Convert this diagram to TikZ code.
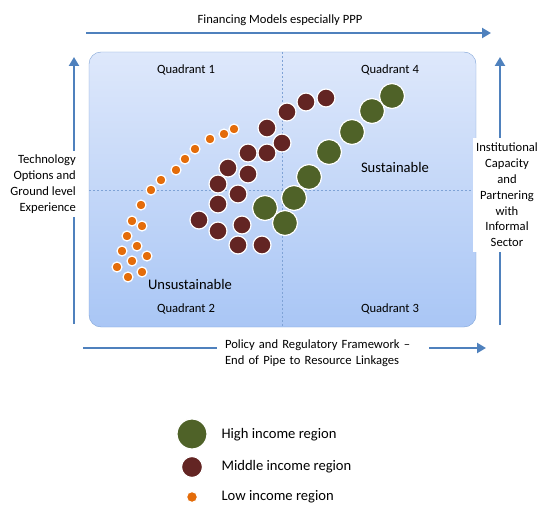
\documentclass[tikz,border=0pt]{standalone}
\usepackage{fontspec}
\setmainfont{Carlito}
\usepackage{xcolor}
\usepackage{tikz}
\usetikzlibrary{arrows.meta}
\definecolor{axisblue}{HTML}{4F81BD}
\definecolor{panelline}{HTML}{7FA3D6}
\definecolor{paneltop}{HTML}{DEE8FB}
\definecolor{panelbottom}{HTML}{A9C6F5}
\definecolor{highgreen}{HTML}{4F6228}
\definecolor{midmaroon}{HTML}{632523}
\definecolor{loworange}{HTML}{E46C0A}

\begin{document}
\begin{tikzpicture}[x=1pt, y=-1pt, font=\fontsize{12.6}{16}\selectfont,
    axis/.style={line width=2.4pt, axisblue, -{Triangle[length=9pt, width=10pt]}},
    axislabel/.style={fill=white, inner sep=4pt},
    dot/.style={circle, draw=white, line width=1.2pt, inner sep=0pt},
    highdot/.style={dot, fill=highgreen, minimum size=25pt},
    middot/.style={dot, fill=midmaroon, minimum size=18pt},
    lowdot/.style={dot, fill=loworange, minimum size=10pt},
    bigword/.style={font=\fontsize{14.6}{17}\selectfont}]
    \useasboundingbox (0,0) rectangle (541,505);

    % Quadrant panel
    \draw[panelline, rounded corners=12pt, top color=paneltop, bottom color=panelbottom]
        (89,52) rectangle (476,327);
    \draw[panelline, dashed, dash pattern=on 2pt off 2pt] (282,52) -- (282,327);
    \draw[panelline, dashed, dash pattern=on 2pt off 2pt] (89,190) -- (476,190);

    \node (q1) at (186,70) {Quadrant 1};
    \node (q4) at (390,70) {Quadrant 4};
    \node (q2) at (186,309) {Quadrant 2};
    \node (q3) at (390,309) {Quadrant 3};
    \node[bigword] (sust) at (395,167) {Sustainable};
    \node[bigword] (unsust) at (190,284) {Unsustainable};

    % Axes
    \coordinate (topfrom) at (86,33);
    \coordinate (topto) at (491,33);
    \coordinate (botfrom) at (83,348);
    \coordinate (botto) at (486,348);
    \coordinate (leftfrom) at (74,324);
    \coordinate (leftto) at (74,57);
    \coordinate (rightfrom) at (500,325);
    \coordinate (rightto) at (500,57);
    \draw[axis] (topfrom) -- (topto);
    \draw[axis] (botfrom) -- (botto);
    \draw[axis] (leftfrom) -- (leftto);
    \draw[axis] (rightfrom) -- (rightto);

    \node (finance) at (280,20) {Financing Models especially PPP};
    \node[axislabel, align=left, text width=196pt, inner xsep=8pt] (policy) at (323,353)
        {Policy and Regulatory Framework~--\\End of Pipe to Resource Linkages};
    \node[axislabel, align=right, anchor=east] (techno) at (80,184)
        {Technology\\Options and\\Ground level\\Experience};
    \node[axislabel, align=center, text width=64pt, inner xsep=2pt, inner ysep=5pt,
          font=\fontsize{12.6}{15.8}\selectfont] (institution) at (507,195)
        {Institutional\\Capacity\\and\\Partnering\\with\\Informal\\Sector};

    % Low income regions
    \foreach \px/\py [count=\i] in {234/129, 224/134, 210/139, 195/149, 185/159,
        176/170, 161/180, 151/190, 141/205, 132/221, 142/226, 127/236, 137/246,
        122/251, 147/256, 132/261, 117/267, 142/272, 128/277}
        \node[lowdot] (low\i) at (\px,\py) {};

    % Middle income regions
    \foreach \px/\py [count=\i] in {326/98, 306/102, 287/112, 267/128, 282/143,
        267/153, 248/153, 228/168, 248/174, 218/184, 238/194, 218/204, 199/220,
        242/225, 218/231, 238/245, 262/245}
        \node[middot] (mid\i) at (\px,\py) {};

    % High income regions
    \foreach \px/\py [count=\i] in {392/96, 372/111, 352/132, 329/152, 309/177,
        294/198, 265/208, 285/223}
        \node[highdot] (high\i) at (\px,\py) {};

    % Legend
    \node[highdot, minimum size=30pt] (keyhigh) at (192,434) {};
    \node[middot, minimum size=21pt] (keymid) at (192,467) {};
    \node[lowdot, minimum size=11pt] (keylow) at (192,497) {};
    \node[bigword, anchor=west] (keyhightext) at (218,435) {High income region};
    \node[bigword, anchor=west] (keymidtext) at (218,467) {Middle income region};
    \node[bigword, anchor=west] (keylowtext) at (218,497) {Low income region};

\end{tikzpicture}
\end{document}
